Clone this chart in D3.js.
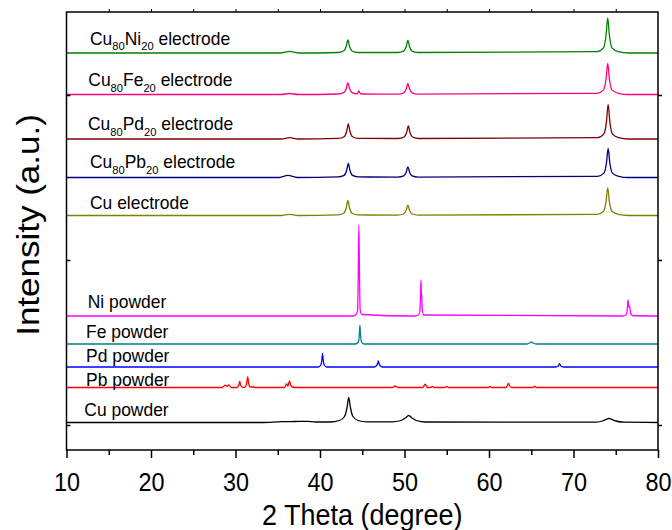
<!DOCTYPE html>
<html>
<head>
<meta charset="utf-8">
<script src="https://cdn.jsdelivr.net/npm/d3@7"></script>
<style>
  body { margin: 0; background: #fff; }
  text { font-family: "Liberation Sans", Arial, sans-serif; }
</style>
</head>
<body>
<svg id="chart" width="672" height="530"></svg>
<script>
// XRD patterns, stacked. Each series is [2theta, intensity above its own baseline]
// values, offsets are where each baseline sits (a.u.)

const niElectrode = [[10,0],[35.4,0],[36.4,1.6],[37.4,0],
  [42.1,0.5],[42.8,2],[43.1,6.5],[43.3,13],[43.5,6.5],[43.8,2],[44.5,0.5],
  [49.2,0.5],[49.9,1.9],[50.2,6.2],[50.4,12.5],[50.6,6.2],[50.9,1.9],[51.6,0.5],
  [72.8,1.4],[73.55,5.2],[73.85,17.5],[74.05,35],[74.25,17.5],[74.55,5.2],[75.3,1.4],[76.5,0],[80,0]]

const feElectrode = [[10,0],[35.4,0],[36.4,1],[37.4,0],
  [42.1,0.5],[42.8,1.8],[43.1,5.8],[43.3,11.7],[43.5,5.8],[43.8,1.8],
  [44.35,0.6],[44.5,1.8],[44.6,3.6],[44.7,1.8],[44.9,0.5],
  [49.2,0.4],[49.9,1.7],[50.2,5.5],[50.4,11],[50.6,5.5],[50.9,1.7],[51.6,0.4],
  [72.8,1.2],[73.55,4.6],[73.85,15.5],[74.05,31],[74.25,15.5],[74.55,4.6],[75.3,1.2],[76.5,0],[80,0]]

const pdElectrode = [[10,0],[35.4,0],[36.4,1.3],[37.4,0],
  [42.15,0.6],[42.85,2.3],[43.15,7.5],[43.35,15],[43.55,7.5],[43.85,2.3],[44.55,0.6],
  [49.25,0.5],[49.95,2],[50.25,6.5],[50.45,13],[50.65,6.5],[50.95,2],[51.65,0.5],
  [72.85,1.4],[73.6,5.2],[73.9,17.4],[74.1,34.7],[74.3,17.4],[74.6,5.2],[75.35,1.4],[76.5,0],[80,0]]

const pbElectrode = [[10,0],[35.2,0],[36.2,2.2],[37.3,0],
  [42.15,0.6],[42.85,2.1],[43.15,7],[43.35,14],[43.55,7],[43.85,2.1],[44.55,0.6],
  [49.2,0.4],[49.9,1.6],[50.2,5.3],[50.4,10.7],[50.6,5.3],[50.9,1.6],[51.6,0.4],
  [72.85,1.2],[73.6,4.4],[73.9,14.5],[74.1,29],[74.3,14.5],[74.6,4.4],[75.35,1.2],[76.5,0],[80,0]]

const cuElectrode = [[10,0],[35.4,0],[36.4,1.2],[37.4,0],
  [42.1,0.6],[42.8,2.3],[43.1,7.5],[43.3,15],[43.5,7.5],[43.8,2.3],[44.5,0.6],
  [49.2,0.4],[49.9,1.5],[50.2,5.2],[50.4,10.3],[50.6,5.2],[50.9,1.5],[51.6,0.4],
  [72.8,1.1],[73.55,4.2],[73.85,13.8],[74.05,27.7],[74.25,13.8],[74.55,4.2],[75.3,1.1],[76.5,0],[80,0]]

const niPowder = [[10,0],[43.9,0],
  [44.25,1.5],[44.45,6],[44.53,45],[44.6,91],[44.67,45],[44.75,6],[44.95,1.5],[51.2,0],
  [51.65,1],[51.82,5],[51.89,18],[51.95,36],[52.0,22],[52.04,21],[52.09,8],[52.25,1],[75.8,0],
  [76.2,1],[76.35,5],[76.45,16],[76.55,9],[76.65,9.5],[76.75,3],[76.95,0.5],[80,0]]

const fePowder = [[10,0],[44.2,0],[44.55,2],[44.65,9],[44.72,18.5],[44.8,9],[44.9,2],[45.2,0],
  [64.5,0],[64.85,1.2],[65.0,2],[65.2,1],[65.6,0],[80,0]]

const pdPowder = [[10,0],[39.8,0],[40.1,2],[40.22,7],[40.3,13.7],[40.38,7],[40.5,2],[40.8,0],
  [46.4,0],[46.7,1.5],[46.82,3.5],[46.9,6],[46.98,3.5],[47.1,1.5],[47.4,0],
  [67.9,0],[68.2,1],[68.35,3.3],[68.5,1],[68.8,0],[80,0]]

const pbPowder = [[10,0],[28.4,0],[28.8,2.3],[29.0,1.2],[29.2,2.5],[29.5,0],
  [30.2,0],[30.4,2.5],[30.5,6.3],[30.62,2],[30.9,0],[31.15,0.5],[31.32,4],[31.45,10.7],[31.56,4],[31.75,0.5],
  [32.0,0.5],[32.1,1],[32.3,0],[35.8,0],[36.05,3.5],[36.2,1.5],[36.4,6.5],[36.55,2],[36.9,0],
  [48.6,0],[48.9,1.5],[49.2,0],[52.15,0],[52.45,3.3],[52.7,0],[53.1,0],[53.3,1],[53.5,0],
  [54.8,0],[55.0,1],[55.2,0],[59.9,0],[60.1,1],[60.3,0],[62.0,0],[62.2,2.5],[62.3,4],[62.45,1.5],[62.7,0],
  [65.2,0],[65.4,1.3],[65.6,0],[80,0]]

const cuPowder = [[10,0],[33,0],[35.5,0.8],[37,1],[38.5,1.2],[39.5,0.5],[41.2,0.5],
  [42.3,2],[42.9,6],[43.2,15],[43.4,25],[43.6,15],[43.9,6],[44.5,2],[45.5,0.6],
  [48.5,0.6],[49.6,2],[50.1,4.5],[50.5,7],[50.9,4.5],[51.4,2],[52.5,0.5],
  [72.5,0.3],[73.4,1.5],[73.9,3.2],[74.2,4.2],[74.5,3.2],[75,1.5],[76,0.3],[80,0]]

const seriesData = [niElectrode, feElectrode, pdElectrode, pbElectrode, cuElectrode,
  niPowder, fePowder, pdPowder, pbPowder, cuPowder]
const seriesOffsets = [372, 330.5, 286, 247.5, 209.5, 109, 81, 58, 37.5, 2.5]
const seriesColors = ["#008000", "#ff0080", "#800000", "#000080", "#808000",
  "#ff00ff", "#008080", "#0000ff", "#ff0000", "#000000"]

// label text, second item true = subscript
const seriesLabels = [
  [["Cu",false],["80",true],["Ni",false],["20",true],[" electrode",false]],
  [["Cu",false],["80",true],["Fe",false],["20",true],[" electrode",false]],
  [["Cu",false],["80",true],["Pd",false],["20",true],[" electrode",false]],
  [["Cu",false],["80",true],["Pb",false],["20",true],[" electrode",false]],
  [["Cu electrode",false]],
  [["Ni powder",false]],
  [["Fe powder",false]],
  [["Pd powder",false]],
  [["Pb powder",false]],
  [["Cu powder",false]]
]
// where labels sit: x in px, and how far above the trace baseline
const labelX = [90, 88.3, 88, 90, 90, 87.7, 86, 86, 86, 84.3]
const labelRaise = [8.3, 8.5, 9, 9.2, 6.5, 7.7, 5.7, 5.3, 1.8, 6.5]

const xTicks = [10, 20, 30, 40, 50, 60, 70, 80]
const xMinorTicks = [15, 25, 35, 45, 55, 65, 75]
const yTicks = [0, 165, 330]

//----------------------------------------------------------------
const svg = d3.select("#chart")
const mLeft = 66.5, mRight = 658, mTop = 12, mBottom = 450

const x = d3.scaleLinear().domain([10, 80]).range([mLeft, mRight])
const y = d3.scaleLinear().domain([-25, 413]).range([mBottom, mTop])

const line = d3.line()
  .x(d => x(d[0]))
  .y(d => y(d[1]))
  .curve(d3.curveMonotoneX)

// traces
seriesData.forEach((pts, i) => {
  const shifted = pts.map(p => [p[0], p[1] + seriesOffsets[i]])
  svg.append("path")
    .datum(shifted)
    .attr("d", line)
    .attr("fill", "none")
    .attr("stroke", seriesColors[i])
    .attr("stroke-width", 1.3)
    .attr("stroke-linejoin", "round")
})

// labels
seriesLabels.forEach((parts, i) => {
  const ty = y(seriesOffsets[i]) - labelRaise[i]
  const t = svg.append("text")
    .attr("transform", `translate(${labelX[i]},${ty}) scale(0.97,1)`)
    .attr("font-size", 18)
    .attr("fill", "#000")
  let down = false
  parts.forEach(p => {
    const sp = t.append("tspan").text(p[0])
    if (p[1]) {
      sp.attr("font-size", 11.5).attr("dy", down ? 0 : 5.5)
      down = true
    } else {
      if (down) sp.attr("dy", -5.5)
      down = false
    }
  })
})

// frame
svg.append("rect")
  .attr("x", mLeft).attr("y", mTop)
  .attr("width", mRight - mLeft).attr("height", mBottom - mTop)
  .attr("fill", "none")
  .attr("stroke", "#000")
  .attr("stroke-width", 1.5)

// bottom axis
const gx = svg.append("g")
  .attr("transform", `translate(0,${mBottom})`)
  .call(d3.axisBottom(x).tickValues(xTicks).tickSize(8).tickSizeOuter(0).tickFormat(d3.format("d")))
gx.select(".domain").remove()
gx.selectAll("line").attr("stroke-width", 1.5)
gx.selectAll("text")
  .attr("y", 41).attr("dy", null)
  .attr("font-size", 26)
  .attr("font-family", "Liberation Sans, Arial, sans-serif")
  .attr("transform", "scale(0.9,1)")

const gxm = svg.append("g")
  .attr("transform", `translate(0,${mBottom})`)
  .call(d3.axisBottom(x).tickValues(xMinorTicks).tickSize(5).tickSizeOuter(0).tickFormat(""))
gxm.select(".domain").remove()
gxm.selectAll("line").attr("stroke-width", 1.5)

// top axis, small marks only
const gt = svg.append("g")
  .attr("transform", `translate(0,${mTop})`)
  .call(d3.axisTop(x).tickValues(xMinorTicks.concat(xTicks.slice(1, -1))).tickSize(3).tickSizeOuter(0).tickFormat(""))
gt.select(".domain").remove()

// left / right axis ticks
const gl = svg.append("g")
  .attr("transform", `translate(${mLeft},0)`)
  .call(d3.axisLeft(y).tickValues(yTicks).tickSize(-4).tickSizeOuter(0).tickFormat(""))
gl.select(".domain").remove()
gl.selectAll("line").attr("stroke-width", 1.5)

const gr = svg.append("g")
  .attr("transform", `translate(${mRight},0)`)
  .call(d3.axisRight(y).tickValues(yTicks).tickSize(4).tickSizeOuter(0).tickFormat(""))
gr.select(".domain").remove()
gr.selectAll("line").attr("stroke-width", 1.5)

// axis titles
svg.append("text")
  .attr("transform", `translate(${(mLeft + mRight) / 2},525) scale(0.9,1)`)
  .attr("text-anchor", "middle")
  .attr("font-size", 30)
  .text("2 Theta (degree)")

svg.append("text")
  .attr("transform", "translate(39,225) rotate(-90) scale(1,0.92)")
  .attr("text-anchor", "middle")
  .attr("font-size", 35)
  .text("Intensity (a.u.)")
</script>
</body>
</html>
